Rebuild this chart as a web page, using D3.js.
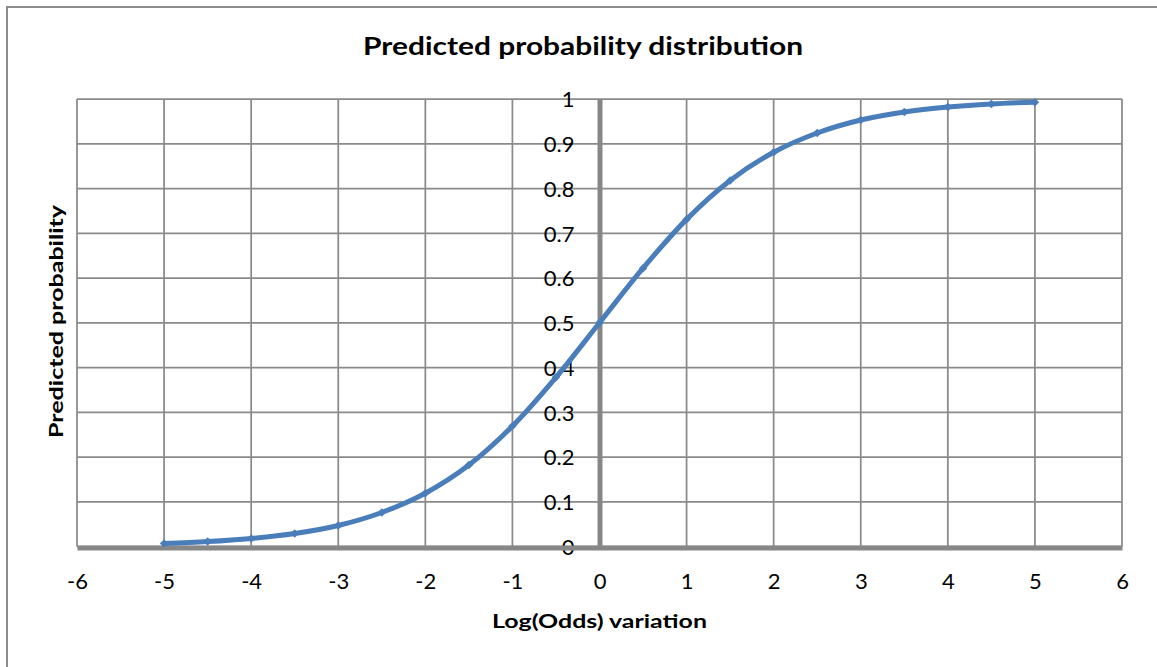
<!DOCTYPE html>
<html>
<head>
<meta charset="utf-8">
<script src="https://cdn.jsdelivr.net/npm/d3@7"></script>
<style>
  html, body { margin: 0; padding: 0; background: #fff; }
  svg { display: block; }
  text { font-family: Lato, "Open Sans", "Noto Sans", sans-serif; fill: #000; }
</style>
</head>
<body>
<svg id="chart" width="1157" height="667"></svg>
<script>
// Log-odds values and the matching predicted probabilities
const logOdds = [-5, -4.5, -4, -3.5, -3, -2.5, -2, -1.5, -1, -0.5, 0,
                 0.5, 1, 1.5, 2, 2.5, 3, 3.5, 4, 4.5, 5];
const probability = [0.0067, 0.011, 0.018, 0.029, 0.047, 0.076, 0.119, 0.182, 0.269, 0.378, 0.5,
                     0.622, 0.731, 0.818, 0.881, 0.924, 0.953, 0.971, 0.982, 0.989, 0.993];
const xTicks = [-6, -5, -4, -3, -2, -1, 0, 1, 2, 3, 4, 5, 6];
const yTicks = [0, 0.1, 0.2, 0.3, 0.4, 0.5, 0.6, 0.7, 0.8, 0.9, 1];

const titleText = "Predicted probability distribution";
const xTitle = "Log(Odds) variation";
const yTitle = "Predicted probability";

const svg = d3.select("#chart");
const plot = { left: 77, right: 1122, top: 99, bottom: 546.5 };

const x = d3.scaleLinear().domain([-6, 6]).range([plot.left, plot.right]);
const y = d3.scaleLinear().domain([0, 1]).range([plot.bottom, plot.top]);

const gridColor = "#8a8a8a";
const axisColor = "#878787";
const lineColor = "#4a7ebb";

// Outer chart frame
svg.append("rect")
  .attr("x", 7).attr("y", 7)
  .attr("width", 1300).attr("height", 900)
  .attr("fill", "none")
  .attr("stroke", "#8c8c8c")
  .attr("stroke-width", 2);

// Gridlines
const grid = svg.append("g");
grid.selectAll("line.v").data(xTicks).join("line")
  .attr("class", "v")
  .attr("x1", d => x(d)).attr("x2", d => x(d))
  .attr("y1", plot.top).attr("y2", plot.bottom)
  .attr("stroke", gridColor).attr("stroke-width", 1.75);
grid.selectAll("line.h").data(yTicks).join("line")
  .attr("class", "h")
  .attr("x1", plot.left).attr("x2", plot.right)
  .attr("y1", d => y(d)).attr("y2", d => y(d))
  .attr("stroke", gridColor).attr("stroke-width", 1.75);

// Axes crossing at the origin, drawn as heavy lines
const xAxis = d3.axisBottom(x).tickValues(xTicks).tickSize(0).tickPadding(0)
  .tickFormat(d => String(d));
const gx = svg.append("g").attr("transform", `translate(0,${y(0)})`).call(xAxis);
gx.select(".domain").attr("stroke", axisColor).attr("stroke-width", 5)
  .attr("transform", "translate(0,1)");
gx.selectAll(".tick text")
  .attr("y", 42).attr("dy", 0)
  .style("font-size", "22px")
  .style("font-family", "Lato, 'Open Sans', sans-serif")
  .attr("fill", "#000");

const yAxis = d3.axisLeft(y).tickValues(yTicks).tickSize(0).tickPadding(0)
  .tickFormat(d => String(d));
const gy = svg.append("g").attr("transform", `translate(${x(0)},0)`).call(yAxis);
gy.select(".domain").attr("stroke", axisColor).attr("stroke-width", 5);
gy.selectAll(".tick text")
  .attr("x", -25).attr("dy", "0.36em")
  .style("font-size", "22px")
  .style("font-family", "Lato, 'Open Sans', sans-serif")
  .attr("fill", "#000");

// Keep the horizontal axis above the vertical one
gx.raise();

// Smoothed probability curve
const pts = logOdds.map((v, i) => [v, probability[i]]);
const line = d3.line()
  .x(d => x(d[0]))
  .y(d => y(d[1]))
  .curve(d3.curveCatmullRom.alpha(0.5));

svg.append("path")
  .datum(pts)
  .attr("d", line)
  .attr("fill", "none")
  .attr("stroke", lineColor)
  .attr("stroke-width", 5)
  .attr("stroke-linecap", "round")
  .attr("stroke-linejoin", "round");

// Small diamond markers at each data point
svg.append("g").selectAll("path").data(pts).join("path")
  .attr("transform", d => `translate(${x(d[0])},${y(d[1])}) rotate(45)`)
  .attr("d", "M-3,-3H3V3H-3Z")
  .attr("fill", lineColor);

// Titles
svg.append("text")
  .attr("x", 363).attr("y", 55)
  .attr("textLength", 440).attr("lengthAdjust", "spacingAndGlyphs")
  .style("font-size", "25px").style("font-weight", "bold")
  .text(titleText);

svg.append("text")
  .attr("x", 492).attr("y", 628)
  .attr("textLength", 215).attr("lengthAdjust", "spacingAndGlyphs")
  .style("font-size", "19px").style("font-weight", "bold")
  .text(xTitle);

svg.append("text")
  .attr("transform", "translate(63,438) rotate(-90)")
  .attr("x", 0).attr("y", 0)
  .attr("textLength", 233).attr("lengthAdjust", "spacingAndGlyphs")
  .style("font-size", "19px").style("font-weight", "bold")
  .text(yTitle);
</script>
</body>
</html>
